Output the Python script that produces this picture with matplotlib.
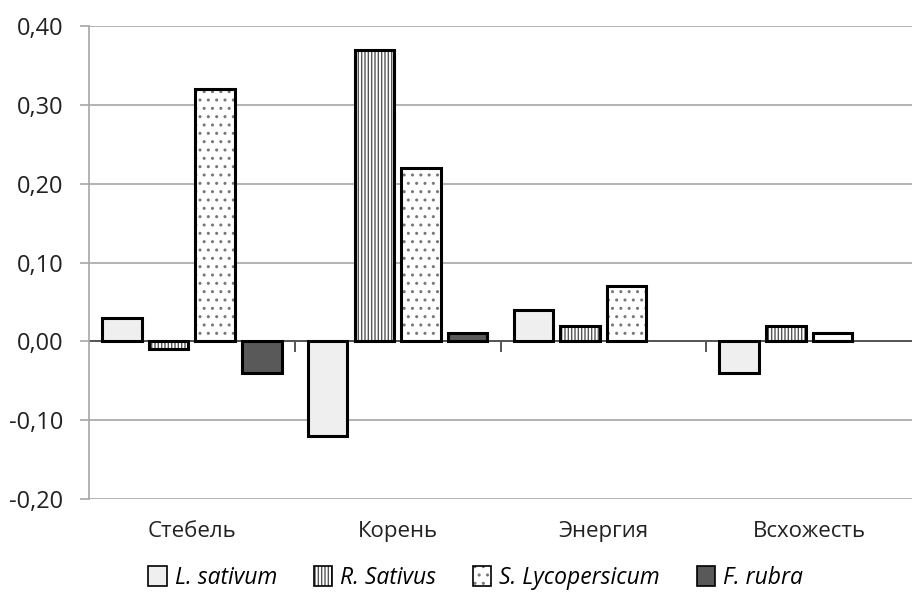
import matplotlib.pyplot as plt
import numpy as np
from matplotlib.patches import Patch
from matplotlib.colors import to_rgba

plt.rcParams['hatch.linewidth'] = 1.0

categories = ["Стебель", "Корень", "Энергия", "Всхожесть"]
series_names = ["L. sativum", "R. Sativus", "S. Lycopersicum", "F. rubra"]
l_sativum = [0.03, -0.12, 0.04, -0.04]
r_sativus = [-0.01, 0.37, 0.02, 0.02]
s_lycopersicum = [0.32, 0.22, 0.07, 0.01]
f_rubra = [-0.04, 0.01, 0.0, 0.0]
y_ticks = [-0.20, -0.10, 0.0, 0.10, 0.20, 0.30, 0.40]

series = [l_sativum, r_sativus, s_lycopersicum, f_rubra]
fills = ["#efefef", "white", "white", "#595959"]
hatches = [None, "|||||", "..", None]
hatch_cols = ["black", "#555555", "#777777", "black"]

fig = plt.figure(figsize=(9.13, 6.03), dpi=100)
ax = fig.add_axes([89 / 913, 1 - 499 / 603, 823 / 913, 473 / 603])

x = np.arange(len(categories))
width = 0.192
step = 0.227
for k, vals in enumerate(series):
    pos = x + (k - 1.5) * step
    vals = np.array(vals)
    mask = vals != 0  # no bar where value is empty
    bars = ax.bar(pos[mask], vals[mask], width, color=fills[k], edgecolor="black",
                  linewidth=2.2, hatch=hatches[k], zorder=3)
    if hatches[k]:
        for b in bars:
            b._hatch_color = to_rgba(hatch_cols[k])

handles = []
for k in range(4):
    p = Patch(facecolor=fills[k], edgecolor="black", hatch=hatches[k], linewidth=1.2)
    if hatches[k]:
        p._hatch_color = to_rgba(hatch_cols[k])
    handles.append(p)

ax.set_xlim(-0.5, len(categories) - 0.5)
ax.set_ylim(-0.20, 0.40)
ax.set_yticks(y_ticks)
ax.set_yticklabels([f"{v:.2f}".replace(".", ",") for v in y_ticks],
                   fontsize=17, family="Open Sans", color="#222222")
ax.yaxis.grid(True, color="#a6a6a6", linewidth=1.2, zorder=0)
ax.tick_params(axis="y", length=6.5, color="#a6a6a6", width=1.2, pad=12)

ax.set_xticks(x)
ax.set_xticklabels(categories, fontsize=16, family="Open Sans", color="#222222")
ax.tick_params(axis="x", length=0, pad=16)

for s in ["top", "right", "bottom"]:
    ax.spines[s].set_visible(False)
ax.spines["left"].set_color("#a6a6a6")
ax.spines["left"].set_linewidth(1.2)

ax.axhline(0, color="#555555", linewidth=1.4, zorder=2)
bounds = np.arange(len(categories) + 1) - 0.5
ax.vlines(bounds[1:-1], -0.013, 0, color="#555555", linewidth=1.4, zorder=2)

fig.legend(handles, series_names, loc="center", bbox_to_anchor=(0.521, 1 - 578 / 603),
           ncol=4, frameon=False, handlelength=0.8, handleheight=1.0,
           handletextpad=0.35, columnspacing=1.6,
           prop={"family": "Open Sans", "style": "italic", "size": 16.5})

fig.savefig("out.png", dpi=100)
